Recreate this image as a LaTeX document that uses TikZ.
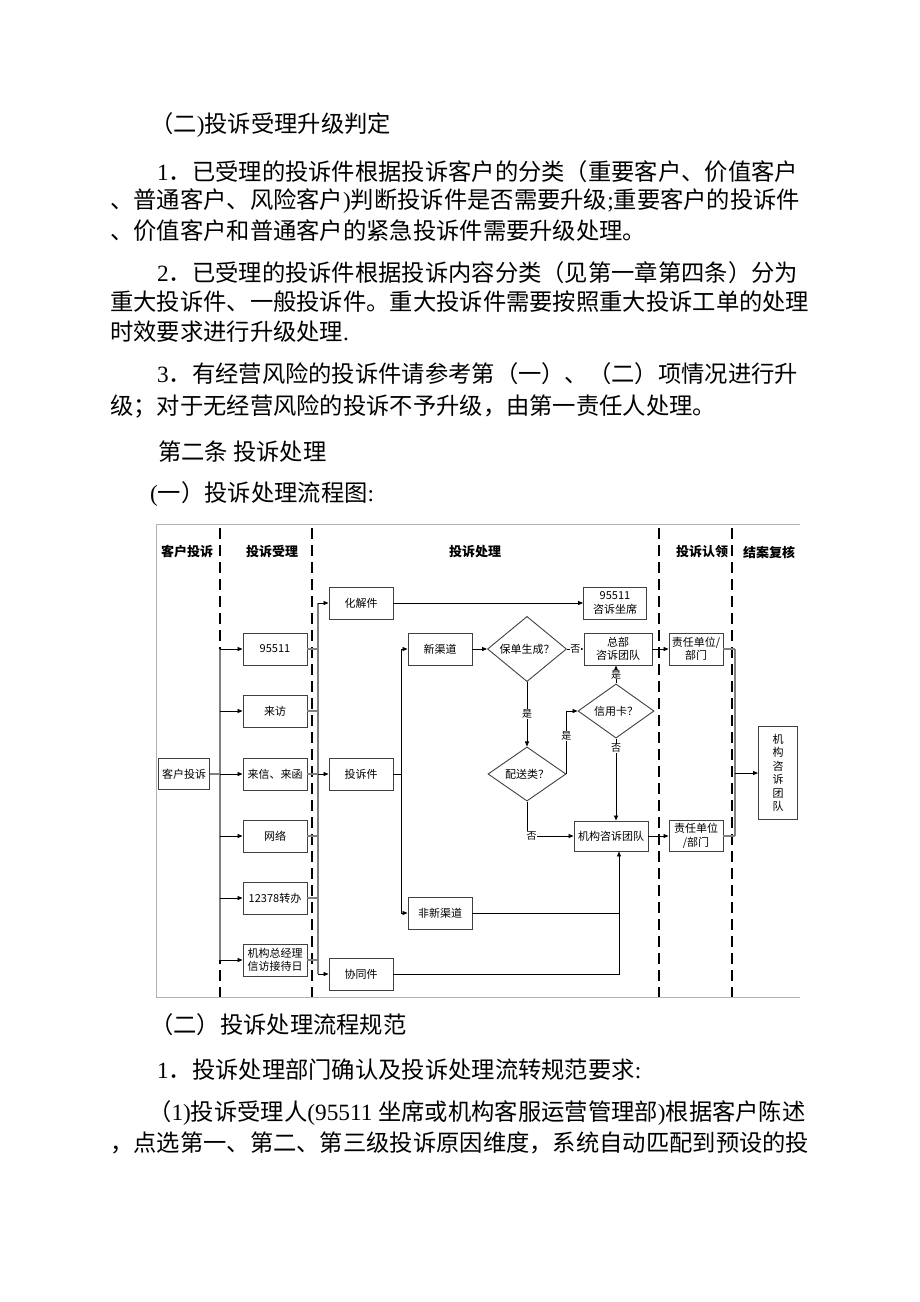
\documentclass[tikz,border=0pt]{standalone}
\usepackage{fontspec}
\setmainfont{Liberation Serif}
\newfontfamily\cjk{Noto Sans CJK SC}
\newcommand{\zh}[1]{{\cjk #1}}
\usetikzlibrary{shapes.geometric,arrows.meta}

\begin{document}
\begin{tikzpicture}[x=1pt,y=-1pt,
	>={Triangle[length=5pt,width=4pt]},
	txt/.style={anchor=west,inner sep=0pt,font=\fontsize{23.3}{28}\selectfont},
	head/.style={font=\cjk\bfseries\fontsize{13}{15}\selectfont},
	box/.style={draw=black!75,line width=0.9pt,minimum width=64pt,minimum height=32pt,inner sep=1pt,align=center,font=\cjk\fontsize{11}{13.5}\selectfont},
	dec/.style={diamond,draw=black!75,line width=0.9pt,minimum width=79pt,minimum height=45pt,inner sep=0pt,font=\cjk\fontsize{11}{13}\selectfont},
	lbl/.style={fill=white,inner sep=0.5pt,font=\cjk\fontsize{10}{11}\selectfont},
	sep/.style={line width=2.8pt,dash pattern=on 11pt off 6pt},
	bus/.style={draw=black!50,line width=1.4pt},
	link/.style={line width=0.8pt}]
	\useasboundingbox (0,0) rectangle (920,1302);

	% text above the chart
	\node[txt] (t1) at (150,125) {\zh{（二})\zh{投诉受理升级判定}};
	\node[txt] (t2) at (157,172) {1\zh{．已受理的投诉件根据投诉客户的分类（重要客户、价值客户}};
	\node[txt] (t3) at (110,201) {\zh{、普通客户、风险客户})\zh{判断投诉件是否需要升级};\zh{重要客户的投诉件}};
	\node[txt] (t4) at (110,231) {\zh{、价值客户和普通客户的紧急投诉件需要升级处理。}};
	\node[txt] (t5) at (157,273) {2\zh{．已受理的投诉件根据投诉内容分类（见第一章第四条）分为}};
	\node[txt] (t6) at (110,302) {\zh{重大投诉件、一般投诉件。重大投诉件需要按照重大投诉工单的处理}};
	\node[txt] (t7) at (110,332) {\zh{时效要求进行升级处理}.};
	\node[txt] (t8) at (157,374) {3\zh{．有经营风险的投诉件请参考第（一）、（二）项情况进行升}};
	\node[txt] (t9) at (110,406) {\zh{级；对于无经营风险的投诉不予升级，由第一责任人处理。}};
	\node[txt] (t10) at (158,452) {\zh{第二条 投诉处理}};
	\node[txt] (t11) at (150,494) {(\zh{一）投诉处理流程图}:};

	% frame and lanes
	\draw[black!30,line width=1pt] (800,524) -- (156,524) -- (156,997) -- (800,997);
	\foreach \x in {220,312,659,732}
		\draw[sep] (\x,528) -- (\x,997);
	\node[head] (hKehu) at (187,552) {客户投诉};
	\node[head] (hShouli) at (272,552) {投诉受理};
	\node[head] (hChuli) at (475,552) {投诉处理};
	\node[head] (hRenling) at (702,552) {投诉认领};
	\node[head] (hFuhe) at (769,552) {结案复核};

	% boxes
	\node[box,minimum width=51pt,minimum height=31pt] (kehu) at (184,774) {客户投诉};
	\node[box] (rx) at (275,649) {95511};
	\node[box] (laifang) at (275,711) {来访};
	\node[box] (laixin) at (275,774) {来信、来函};
	\node[box] (wangluo) at (275,836) {网络};
	\node[box] (zhuanban) at (275,898) {12378转办};
	\node[box] (jiedai) at (275,960) {机构总经理\\信访接待日};
	\node[box] (huajie) at (361,603) {化解件};
	\node[box] (tousu) at (361,774) {投诉件};
	\node[box] (xietong) at (361,974) {协同件};
	\node[box] (xinqd) at (440,649) {新渠道};
	\node[box] (feixqd) at (440,913) {非新渠道};
	\node[box,minimum width=63pt] (zuoxi) at (615,603) {95511\\咨诉坐席};
	\node[box,minimum width=68pt] (zongbu) at (618,649) {总部\\咨诉团队};
	\node[box,minimum width=74pt,minimum height=30pt] (jigou) at (611,836) {机构咨诉团队};
	\node[box,minimum width=54pt] (zr1) at (696,649) {责任单位/\\部门};
	\node[box,minimum width=54pt,minimum height=31pt] (zr2) at (696,836) {责任单位\\/部门};
	\node[box,minimum width=39pt,minimum height=93pt] (fuhe) at (778,773) {机\\构\\咨\\诉\\团\\队};
	\node[dec] (baodan) at (527,649) {保单生成？};
	\node[dec,minimum width=76pt,minimum height=47pt] (xinyong) at (616,711) {信用卡？};
	\node[dec,minimum width=78pt,minimum height=46pt] (peisong) at (527,774) {配送类？};

	% bus lines
	\coordinate (busA) at (220,0);
	\coordinate (busB) at (318,0);
	\coordinate (busC) at (401,0);
	\coordinate (busD) at (735,0);
	\coordinate (busE) at (619,0);

	\draw[bus] (rx.west -| busA) -- (jiedai.west -| busA);
	\draw[bus] (kehu.east) -- (kehu.east -| busA);
	\foreach \n in {rx,laifang,laixin,wangluo,zhuanban,jiedai}
		\draw[link,->] (\n.west -| busA) -- (\n.west);

	\draw[bus] (huajie.west -| busB) -- (xietong.west -| busB);
	\foreach \n in {rx,laifang,laixin,wangluo,zhuanban,jiedai}
		\draw[bus] (\n.east) -- (\n.east -| busB);
	\foreach \n in {huajie,tousu,xietong}
		\draw[link,->] (\n.west -| busB) -- (\n.west);

	\draw[link] (tousu.east) -- (tousu.east -| busC);
	\draw[link] (xinqd.west -| busC) -- (feixqd.west -| busC);
	\draw[link,->] (xinqd.west -| busC) -- (xinqd.west);
	\draw[link,->] (feixqd.west -| busC) -- (feixqd.west);

	% decisions
	\draw[link,->] (huajie) -- (zuoxi);
	\draw[link,->] (xinqd) -- (baodan);
	\draw[link,->] (baodan) -- node[lbl]{否} (zongbu);
	\draw[link,->] (baodan) -- node[lbl]{是} (peisong);
	\draw[link,->] (peisong.east) |- node[lbl,pos=0.3]{是} (xinyong.west);
	\draw[link,->] (xinyong.north) -- node[lbl]{是} (xinyong.north |- zongbu.south);
	\draw[link,->] (xinyong.south) -- node[lbl,pos=0.12]{否} (xinyong.south |- jigou.north);
	\draw[link,->] (peisong.south) |- node[lbl,pos=0.55]{否} (jigou.west);
	\draw[link] (feixqd.east) -- (feixqd.east -| busE);
	\draw[link,->] (xietong.east) -| (busE |- jigou.south);

	% to the right lanes
	\draw[link,->] (zongbu) -- (zr1);
	\draw[link,->] (jigou) -- (zr2);
	\draw[bus] (zr1.east) -- (zr1.east -| busD);
	\draw[bus] (zr2.east) -- (zr2.east -| busD);
	\draw[bus] (zr1.east -| busD) -- (zr2.east -| busD);
	\draw[link,->] (fuhe.west -| busD) -- (fuhe.west);

	% text below the chart
	\node[txt] (t12) at (150,1025) {\zh{（二）投诉处理流程规范}};
	\node[txt] (t13) at (157,1070) {1\zh{．投诉处理部门确认及投诉处理流转规范要求}:};
	\node[txt] (t14) at (148,1113) {\zh{（}1)\zh{投诉受理人}(95511 \zh{坐席或机构客服运营管理部})\zh{根据客户陈述}};
	\node[txt] (t15) at (110,1143) {\zh{，点选第一、第二、第三级投诉原因维度，系统自动匹配到预设的投}};
\end{tikzpicture}
\end{document}
